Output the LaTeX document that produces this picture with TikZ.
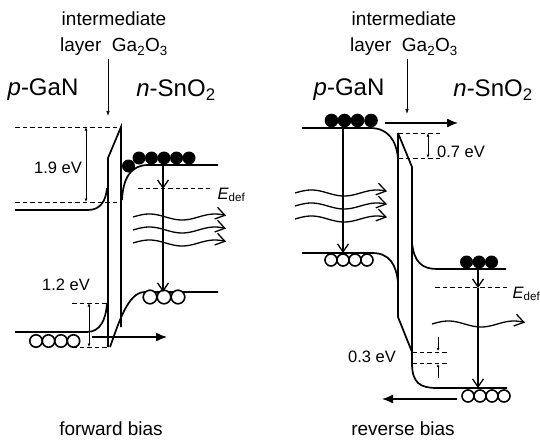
\documentclass[tikz,border=0pt]{standalone}
\usepackage{fontspec}
\setmainfont{Liberation Sans}
\usetikzlibrary{arrows.meta}
\newcommand{\Edef}{\textit{E}\textsubscript{def}}
\newcommand{\wavy}[3]{\draw[wave] plot[domain=0:#3,samples=60,smooth] ({#1+\x},{#2-3*sin(\x*5.5)});}

\begin{document}
\begin{tikzpicture}[x=1pt,y=-1pt,
  band/.style={line width=1.7pt},
  level/.style={line width=1pt,dash pattern=on 4.5pt off 3pt},
  gap/.style={line width=0.7pt,{Latex[length=3.5pt,width=3pt]}-{Latex[length=3.5pt,width=3pt]}},
  small/.style={line width=0.7pt,-{Latex[length=3pt,width=3pt]}},
  fall/.style={line width=1.2pt,-{Straight Barb[length=8pt,width=11pt,line width=1.3pt]}},
  wave/.style={line width=1.3pt,-{Straight Barb[length=9pt,width=12pt,line width=1.3pt]}},
  drift/.style={line width=1.3pt,-{Latex[length=11pt,width=9pt]}},
  hole/.style={line width=1.6pt,fill=white},
  electron/.style={fill=black},
  lbl/.style={font=\fontsize{16.5}{18}\selectfont},
  big/.style={font=\fontsize{24}{26}\selectfont}]
\useasboundingbox (0,0) rectangle (540,441);

% forward bias
\node[align=center,font=\fontsize{19}{26}\selectfont] (fwdLayer) at (114,34) {intermediate\\layer\ \ Ga\textsubscript{2}O\textsubscript{3}};
\node[big] (fwdP) at (43,90) {\textit{p}-GaN};
\node[big] (fwdN) at (176,90) {\textit{n}-SnO\textsubscript{2}};
\coordinate (fwdTip) at (108,116);
\draw[line width=0.7pt,-{Latex[length=5pt,width=3.5pt]}] (fwdTip |- fwdLayer.south) -- (fwdTip);

\draw[level] (15,127) -- (121,127);
\draw[level] (15,202) -- (122,202);
\draw[gap] (86,127) -- (86,202);
\node[lbl,fill=white,inner sep=0.5pt] (fwdGapC) at (58,168) {1.9 eV};
\draw[band] (15,210) -- (88,210) .. controls (101,210) and (106,200) .. (107,188);
\draw[band] (108,347) -- (108,158) -- (121,127) -- (121,327);
\draw[band] (218,165) -- (148,165) .. controls (131,165) and (123,178) .. (122,200);
\draw[band] (15,332) -- (87,332) .. controls (100,332) and (106,320) .. (107,303);
\draw[band] (218,292) -- (145,292) .. controls (128,292) and (119,322) .. (110,347);
\draw[level] (72,303) -- (107,303);
\draw[level] (72,347) -- (108,347);
\draw[gap] (89,303) -- (89,347);
\node[lbl] (fwdGapV) at (66,285) {1.2 eV};
\draw[level] (138,188) -- (213,188);
\node[lbl,anchor=west] (fwdDef) at (214,195) {\Edef};
\fill[electron] (128.5,166) circle[radius=6.5pt];
\foreach \cx in {139,151.5,164,176.5,189} \fill[electron] (\cx,158) circle[radius=6.5pt];
\foreach \cx in {36,48.5,61,73.5} \draw[hole] (\cx,341) circle[radius=6.2pt];
\foreach \cx in {150,164,178} \draw[hole] (\cx,297) circle[radius=6.8pt];
\draw[fall] (163,165) -- (163,189);
\draw[fall] (163,189) -- (163,292);
\wavy{133}{217}{93}
\wavy{133}{230}{93}
\wavy{133}{243}{93}
\draw[drift] (92,337) -- (167,337);
\node[font=\fontsize{19}{22}\selectfont] (fwdName) at (111,429) {forward bias};

% reverse bias
\node[align=center,font=\fontsize{19}{26}\selectfont] (revLayer) at (404,34) {intermediate\\layer\ \ Ga\textsubscript{2}O\textsubscript{3}};
\node[big] (revP) at (349,90) {\textit{p}-GaN};
\node[big] (revN) at (493,90) {\textit{n}-SnO\textsubscript{2}};
\coordinate (revTip) at (407,114);
\draw[line width=0.7pt,-{Latex[length=5pt,width=3.5pt]}] (revTip |- revLayer.south) -- (revTip);

\draw[band] (302,128) -- (370,128) .. controls (388,128) and (396,140) .. (398,158);
\draw[band] (398,133) -- (398,317) -- (412,352);
\draw[band] (398,133) -- (412,167) -- (412,363) .. controls (412,383) and (420,388) .. (437,388) -- (507,388);
\draw[band] (412,243) .. controls (414,262) and (422,269) .. (437,269) -- (506,269);
\draw[band] (302,253) -- (372,253) .. controls (390,253) and (396,265) .. (398,282);
\draw[level] (398,133) -- (440,133);
\draw[level] (398,158) -- (440,158);
\draw[gap] (428,133) -- (428,158);
\node[lbl] (revGapC) at (461,152) {0.7 eV};
\draw[level] (412,352) -- (448,352);
\draw[level] (412,363) -- (448,363);
\draw[small] (438,337) -- (438,351);
\draw[small] (438,378) -- (438,364);
\node[lbl] (revGapV) at (372,357) {0.3 eV};
\draw[level] (435,287) -- (508,287);
\node[lbl,anchor=west] (revDef) at (509,294) {\Edef};
\foreach \cx in {331.5,344.5,357.5,371} \fill[electron] (\cx,120.5) circle[radius=6.8pt];
\foreach \cx in {331,343,355,367} \draw[hole] (\cx,260) circle[radius=6pt];
\foreach \cx in {466.5,479,491.5} \fill[electron] (\cx,262) circle[radius=6.5pt];
\foreach \cx in {468,480,492,504} \draw[hole] (\cx,396) circle[radius=6pt];
\draw[fall] (343,128) -- (343,253);
\draw[fall] (478,270) -- (478,288);
\draw[fall] (478,288) -- (478,388);
\wavy{295}{193}{92}
\wavy{295}{206}{92}
\wavy{295}{219}{92}
\wavy{432}{324}{93}
\draw[drift] (385,123) -- (458,123);
\draw[drift] (457,399) -- (382,399);
\node[font=\fontsize{19}{22}\selectfont] (revName) at (403,429) {reverse bias};
\end{tikzpicture}
\end{document}
